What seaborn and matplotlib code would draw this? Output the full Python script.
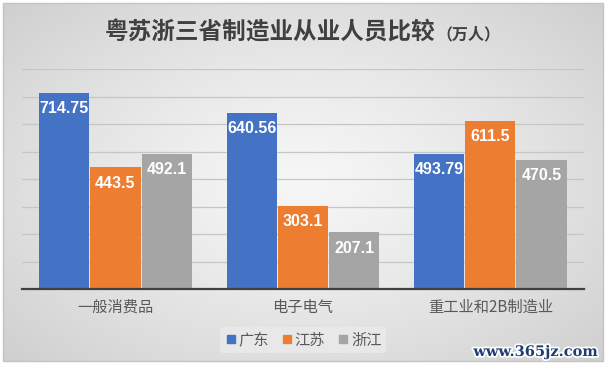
import numpy as np
import pandas as pd
import matplotlib
matplotlib.use("Agg")
import matplotlib.pyplot as plt
import matplotlib.patheffects as pe
from matplotlib.lines import Line2D
from matplotlib.patches import Rectangle
import seaborn as sns

categories = ["一般消费品", "电子电气", "重工业和2B制造业"]
provinces = ["广东", "江苏", "浙江"]
guangdong = [714.75, 640.56, 493.79]
jiangsu = [443.5, 303.1, 611.5]
zhejiang = [492.1, 207.1, 470.5]
labels = {"广东": ["714.75", "640.56", "493.79"],
          "江苏": ["443.5", "303.1", "611.5"],
          "浙江": ["492.1", "207.1", "470.5"]}
colors = ["#4472C4", "#ED7D31", "#A5A5A5"]

rows = []
for p, vals in zip(provinces, [guangdong, jiangsu, zhejiang]):
    for c, v in zip(categories, vals):
        rows.append({"类别": c, "省份": p, "人数": v})
df = pd.DataFrame(rows)

sns.set_theme(style="white")
plt.rcParams["font.family"] = ["Noto Sans CJK SC", "DejaVu Sans"]

W, H = 606, 367
fig = plt.figure(figsize=(W / 100, H / 100), dpi=100)
fig.patch.set_facecolor("white")

# background gradient of chart area
x0, y0, x1, y1 = 3, 3, 603, 361
bg = fig.add_axes([x0 / W, 1 - y1 / H, (x1 - x0) / W, (y1 - y0) / H], zorder=-5)
yy, xx = np.mgrid[-1:1:200j, -1:1:300j]
r = np.sqrt((xx * 0.95) ** 2 + (yy * 0.9) ** 2) / np.sqrt(2)
g = 0.965 - 0.17 * np.clip(r, 0, 1) ** 1.3
bg.imshow(np.dstack([g, g, g]), aspect="auto", extent=[0, 1, 0, 1])
bg.set_xlim(0, 1)
bg.set_ylim(0, 1)
bg.axis("off")
fig.patches.append(Rectangle((x0 / W, 1 - y1 / H), (x1 - x0) / W, (y1 - y0) / H,
                             transform=fig.transFigure, fill=False,
                             edgecolor="#c4c4c4", lw=1.0, zorder=-4))

left, right = 21.7, 584.0
base, top = 289.3, 69.3
ax = fig.add_axes([left / W, 1 - base / H, (right - left) / W, (base - top) / H])
ax.set_facecolor("none")

sns.barplot(data=df, x="类别", y="人数", hue="省份", hue_order=provinces,
            palette=colors, saturation=1, width=0.82, gap=0.02,
            legend=False, ax=ax, zorder=3, linewidth=0)

ax.set_xlim(-0.5, 2.5)
ax.set_ylim(0, 800)
ax.set_yticks(range(0, 801, 100))
ax.yaxis.grid(True, color="#c6c6c6", lw=0.9, zorder=0)
ax.set_axisbelow(True)
ax.tick_params(axis="y", length=0, labelleft=False)
ax.tick_params(axis="x", length=0, pad=7, labelsize=11, labelcolor="#595959")
ax.set_xlabel("")
ax.set_ylabel("")
for s in ["top", "right", "left"]:
    ax.spines[s].set_visible(False)
ax.spines["bottom"].set_color("#404040")
ax.spines["bottom"].set_linewidth(1.6)
ax.spines["bottom"].set_zorder(5)

for cont, p in zip(ax.containers, provinces):
    for bar, txt in zip(cont, labels[p]):
        cx = bar.get_x() + bar.get_width() / 2
        h = bar.get_height()
        ax.annotate(txt, (cx, h), xytext=(0, -6), textcoords="offset points",
                    ha="center", va="top", color="white", fontsize=11.5,
                    fontweight="bold", family=["Liberation Sans", "DejaVu Sans"],
                    zorder=6)

fig.text(436 / W, 1 - 33 / H, "粤苏浙三省制造业从业人员比较", ha="right", va="center",
         fontsize=17, color="#404040", fontweight="bold")
fig.text(436 / W, 1 - 34 / H, "（万人）", ha="left", va="center",
         fontsize=11.5, color="#404040", fontweight="bold")

handles = [Line2D([], [], marker="s", ls="none", markersize=6,
                  markerfacecolor=c, markeredgecolor=c) for c in colors]
leg = fig.legend(handles, provinces, loc="center", bbox_to_anchor=(303 / W, 1 - 340 / H),
                 ncol=3, frameon=True, fontsize=11, handletextpad=0.1,
                 columnspacing=0.8, borderpad=0.3, handlelength=0.8,
                 labelcolor="#595959")
leg.get_frame().set_facecolor("#e8e8e8")
leg.get_frame().set_edgecolor("none")
leg.get_frame().set_alpha(1)

fig.text(598 / W, 1 - 352 / H, "www.365jz.com", ha="right", va="center",
         fontsize=10.5, color="#1f3d73", fontweight="bold", family="DejaVu Serif",
         path_effects=[pe.withStroke(linewidth=2.5, foreground="white")])

fig.savefig("out.png", dpi=100)
